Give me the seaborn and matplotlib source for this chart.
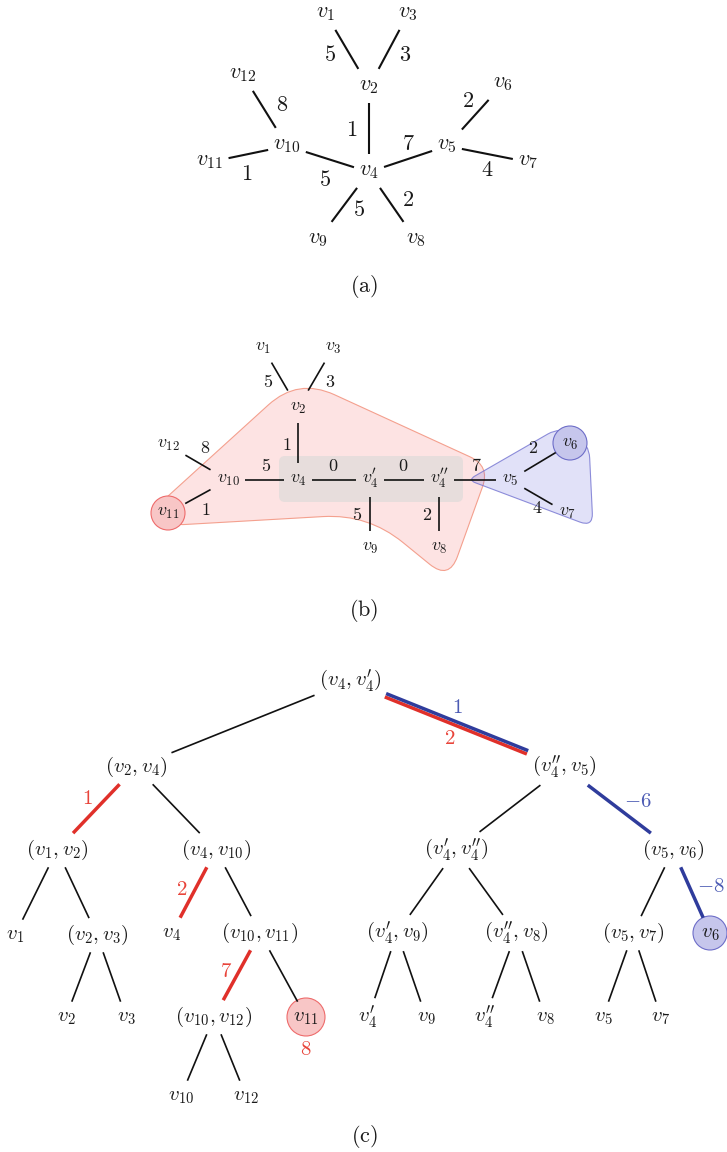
import numpy as np
import pandas as pd
import matplotlib
matplotlib.use("Agg")
import matplotlib.pyplot as plt
import seaborn as sns
from matplotlib.path import Path
from matplotlib.patches import PathPatch, Circle, FancyBboxPatch

sns.set_theme(style="white")
plt.rcParams["mathtext.fontset"] = "cm"
plt.rcParams["font.family"] = ["DejaVu Sans"]

W, H = 727, 1152

# --- panel (a): weighted tree ---
A_IDS = ["v1", "v2", "v3", "v4", "v5", "v6", "v7", "v8", "v9", "v10", "v11", "v12"]
A_LABELS = [r"$v_{1}$", r"$v_{2}$", r"$v_{3}$", r"$v_{4}$", r"$v_{5}$", r"$v_{6}$",
            r"$v_{7}$", r"$v_{8}$", r"$v_{9}$", r"$v_{10}$", r"$v_{11}$", r"$v_{12}$"]
A_X = [326, 369, 408, 369, 447, 503, 528, 416, 318, 287, 210, 243]
A_Y = [14, 87, 14, 172, 146, 84, 162, 240, 240, 146, 162, 75]
A_EDGES = [("v1", "v2"), ("v3", "v2"), ("v2", "v4"), ("v12", "v10"), ("v11", "v10"),
           ("v10", "v4"), ("v4", "v5"), ("v5", "v6"), ("v5", "v7"), ("v4", "v9"), ("v4", "v8")]
A_WEIGHTS = [5, 3, 1, 8, 1, 5, 7, 2, 4, 5, 2]
A_WX = [330, 405, 352, 282, 247, 325, 408, 468, 487, 359, 408]
A_WY = [55, 55, 130, 105, 174, 180, 144, 101, 170, 210, 200]

# --- panel (b): split tree ---
B_IDS = ["v1", "v2", "v3", "v4", "v4p", "v4pp", "v5", "v6", "v7", "v8", "v9", "v10", "v11", "v12"]
B_LABELS = [r"$v_{1}$", r"$v_{2}$", r"$v_{3}$", r"$v_{4}$", r"$v_{4}^{\prime}$",
            r"$v_{4}^{\prime\prime}$", r"$v_{5}$", r"$v_{6}$", r"$v_{7}$", r"$v_{8}$",
            r"$v_{9}$", r"$v_{10}$", r"$v_{11}$", r"$v_{12}$"]
B_X = [263, 298, 333, 298, 370, 439, 510, 570, 567, 439, 370, 228, 168, 168]
B_Y = [348, 408, 348, 480, 480, 480, 480, 444, 513, 548, 548, 480, 513, 445]
B_EDGES = [("v1", "v2"), ("v3", "v2"), ("v2", "v4"), ("v12", "v10"), ("v11", "v10"),
           ("v10", "v4"), ("v4", "v4p"), ("v4p", "v4pp"), ("v4pp", "v5"), ("v5", "v6"),
           ("v5", "v7"), ("v4p", "v9"), ("v4pp", "v8")]
B_WEIGHTS = [5, 3, 1, 8, 1, 5, 0, 0, 7, 2, 4, 5, 2]
B_WX = [268, 330, 287, 205, 206, 266, 333, 403, 476, 533, 537, 357, 427]
B_WY = [382, 382, 445, 448, 510, 466, 466, 466, 466, 448, 508, 515, 515]

# --- panel (c): edge tree ---
C_IDS = ["r", "a", "b", "c", "d", "e", "f", "l1", "g", "l4", "h", "i", "j", "k", "l6",
         "l2", "l3", "m", "l11", "l4p", "l9", "l4pp", "l8", "l5", "l7", "l10", "l12"]
C_LABELS = [r"$(v_4,v_4^{\prime})$", r"$(v_2,v_4)$", r"$(v_4^{\prime\prime},v_5)$",
            r"$(v_1,v_2)$", r"$(v_4,v_{10})$", r"$(v_4^{\prime},v_4^{\prime\prime})$",
            r"$(v_5,v_6)$", r"$v_1$", r"$(v_2,v_3)$", r"$v_4$", r"$(v_{10},v_{11})$",
            r"$(v_4^{\prime},v_9)$", r"$(v_4^{\prime\prime},v_8)$", r"$(v_5,v_7)$", r"$v_6$",
            r"$v_2$", r"$v_3$", r"$(v_{10},v_{12})$", r"$v_{11}$", r"$v_4^{\prime}$", r"$v_9$",
            r"$v_4^{\prime\prime}$", r"$v_8$", r"$v_5$", r"$v_7$", r"$v_{10}$", r"$v_{12}$"]
C_X = [350, 136, 564, 57, 216, 456, 673, 15, 97, 172, 260, 397, 516, 633, 710,
       66, 126, 214, 306, 368, 426, 485, 545, 603, 661, 181, 246]
C_Y = [681, 767, 767, 850, 850, 850, 850, 935, 935, 933, 933, 933, 933, 933, 933,
       1017, 1017, 1017, 1017, 1018, 1017, 1018, 1017, 1017, 1017, 1096, 1096]
C_EDGES = [("r", "a"), ("r", "b"), ("a", "c"), ("a", "d"), ("b", "e"), ("b", "f"),
           ("c", "l1"), ("c", "g"), ("d", "l4"), ("d", "h"), ("e", "i"), ("e", "j"),
           ("f", "k"), ("f", "l6"), ("g", "l2"), ("g", "l3"), ("h", "m"), ("h", "l11"),
           ("i", "l4p"), ("i", "l9"), ("j", "l4pp"), ("j", "l8"), ("k", "l5"), ("k", "l7"),
           ("m", "l10"), ("m", "l12")]
C_EDGE_KIND = ["k", "rb", "r", "k", "k", "b", "k", "k", "r", "k", "k", "k",
               "k", "b", "k", "k", "r", "k", "k", "k", "k", "k", "k", "k", "k", "k"]
C_NOTES = [r"$1$", r"$2$", r"$1$", r"$2$", r"$7$", r"$8$", r"$-6$", r"$-8$"]
C_NOTE_KIND = ["b", "r", "r", "r", "r", "r", "b", "b"]
C_NOTE_X = [457, 450, 87, 182, 226, 306, 638, 711]
C_NOTE_Y = [707, 738, 798, 889, 971, 1049, 801, 886]

CAPTIONS = ["(a)", "(b)", "(c)"]
CAP_Y = [287, 611, 1137]

RED = "#e0302a"
BLUE = "#2f3c9c"
NOTE = {"r": "#e8443a", "b": "#4c5bb4"}


def rounded_path(pts, cuts):
    pts = np.asarray(pts, float)
    n = len(pts)
    verts, codes = [], []
    for i in range(n):
        v, p, q = pts[i], pts[i - 1], pts[(i + 1) % n]
        a = v + (p - v) / np.hypot(*(p - v)) * cuts[i]
        b = v + (q - v) / np.hypot(*(q - v)) * cuts[i]
        verts.append(a)
        codes.append(Path.MOVETO if i == 0 else Path.LINETO)
        verts += [v, b]
        codes += [Path.CURVE3, Path.CURVE3]
    verts.append(verts[0])
    codes.append(Path.LINETO)
    return Path(verts, codes)


fig = plt.figure(figsize=(W / 100, H / 100), dpi=100)
ax = fig.add_axes([0, 0, 1, 1])

# shaded regions of panel (b)
red_hull = [(156, 507), (298, 378), (490, 466), (449, 580), (368, 514), (176, 525)]
ax.add_patch(PathPatch(rounded_path(red_hull, [10, 40, 22, 25, 45, 8]),
                       fc="#fde3e3", ec="#f4a08e", lw=0.8, zorder=1))
ax.add_patch(FancyBboxPatch((279, 456), 184, 46, boxstyle="round,pad=0,rounding_size=6",
                            fc="#e7dddc", ec="none", zorder=2))
blue_hull = [(468, 480), (560, 427), (589, 444), (593, 527)]
ax.add_patch(PathPatch(rounded_path(blue_hull, [8, 14, 14, 14]),
                       fc=(0.35, 0.35, 0.86, 0.18), ec=(0.45, 0.45, 0.82, 0.8), lw=0.8, zorder=2))

# highlighted vertices
ax.add_patch(Circle((168, 513), 17, fc="#f8c6c6", ec="#ee6b6b", lw=0.8, zorder=3))
ax.add_patch(Circle((570, 443), 17, fc="#c6c6ec", ec="#6d6dc8", lw=0.8, zorder=3))
ax.add_patch(Circle((306, 1017), 19, fc="#f8c6c6", ec="#ee6b6b", lw=0.8, zorder=3))
ax.add_patch(Circle((710, 933), 17, fc="#c6c6ec", ec="#6d6dc8", lw=0.8, zorder=3))

panels = [
    dict(ids=A_IDS, labels=A_LABELS, x=A_X, y=A_Y, fs=16, k=0.14, pad=(5, 7)),
    dict(ids=B_IDS, labels=B_LABELS, x=B_X, y=B_Y, fs=13, k=0.14, pad=(6, 7)),
    dict(ids=C_IDS, labels=C_LABELS, x=C_X, y=C_Y, fs=15, k=0.2, pad=(4, 5)),
]

texts = []
for pn in panels:
    tx = {}
    px = pn["fs"] * 100 / 72
    for nid, lab, x, y in zip(pn["ids"], pn["labels"], pn["x"], pn["y"]):
        off = pn["k"] * px if "(" not in lab else 0.25 * px
        tx[nid] = ax.text(x, y + off, lab, ha="center", va="baseline",
                          fontsize=pn["fs"], color="#1a1a1a", zorder=6)
    texts.append(tx)

for w, x, y in zip(A_WEIGHTS, A_WX, A_WY):
    ax.text(x, y, "$%d$" % w, ha="center", va="center", fontsize=16, color="#1a1a1a", zorder=6)
for w, x, y in zip(B_WEIGHTS, B_WX, B_WY):
    ax.text(x, y, "$%d$" % w, ha="center", va="center", fontsize=13, color="#1a1a1a", zorder=6)
for s, kd, x, y in zip(C_NOTES, C_NOTE_KIND, C_NOTE_X, C_NOTE_Y):
    ax.text(x, y, s, ha="center", va="center", fontsize=15, color=NOTE[kd], zorder=6)
for cap, y in zip(CAPTIONS, CAP_Y):
    ax.text(364, y, r"$\mathrm{%s}$" % cap, ha="center", va="center", fontsize=16,
            color="#1a1a1a")

ax.set_xlim(0, W)
ax.set_ylim(H, 0)
fig.canvas.draw()
rend = fig.canvas.get_renderer()
inv = ax.transData.inverted()


def box(t, pad):
    bb = t.get_window_extent(rend)
    (x0, y0), (x1, y1) = inv.transform([[bb.x0, bb.y0], [bb.x1, bb.y1]])
    return min(x0, x1) - pad[0], max(x0, x1) + pad[0], min(y0, y1) - pad[1], max(y0, y1) + pad[1]


def exit_point(c, bx, d):
    ts = []
    if d[0] > 0: ts.append((bx[1] - c[0]) / d[0])
    if d[0] < 0: ts.append((bx[0] - c[0]) / d[0])
    if d[1] > 0: ts.append((bx[3] - c[1]) / d[1])
    if d[1] < 0: ts.append((bx[2] - c[1]) / d[1])
    return c + d * min(ts)


rows = []
eid = 0


def add_edge(pn, tx, a, b, kind, lw):
    global eid
    ia, ib = pn["ids"].index(a), pn["ids"].index(b)
    pa = np.array([pn["x"][ia], pn["y"][ia]], float)
    pb = np.array([pn["x"][ib], pn["y"][ib]], float)
    d = pb - pa
    s = exit_point(pa, box(tx[a], pn["pad"]), d)
    e = exit_point(pb, box(tx[b], pn["pad"]), -d)
    nrm = np.array([d[1], -d[0]]) / np.hypot(*d)
    offs = [("r", -1.8), ("b", 1.8)] if kind == "rb" else [(kind, 0.0)]
    for kd, o in offs:
        for p in (s + nrm * o, e + nrm * o):
            rows.append(dict(edge=eid, x=p[0], y=p[1], kind=kd,
                             lw=lw if kd == "k" else 2.5))
        eid += 1


for a, b in A_EDGES:
    add_edge(panels[0], texts[0], a, b, "k", 1.5)
for a, b in B_EDGES:
    add_edge(panels[1], texts[1], a, b, "k", 1.2)
for (a, b), kd in zip(C_EDGES, C_EDGE_KIND):
    add_edge(panels[2], texts[2], a, b, kd, 1.2)

seg = pd.DataFrame(rows)
colors = {"k": "#111111", "r": RED, "b": BLUE}
for (kd, lw), sub in seg.groupby(["kind", "lw"], sort=False):
    sns.lineplot(data=sub, x="x", y="y", units="edge", estimator=None, sort=False,
                 color=colors[kd], linewidth=lw, solid_capstyle="butt", legend=False,
                 ax=ax, zorder=5 if kd != "r" else 4.5)

ax.set_xlim(0, W)
ax.set_ylim(H, 0)
ax.set_axis_off()
fig.savefig("out.png", dpi=100)
